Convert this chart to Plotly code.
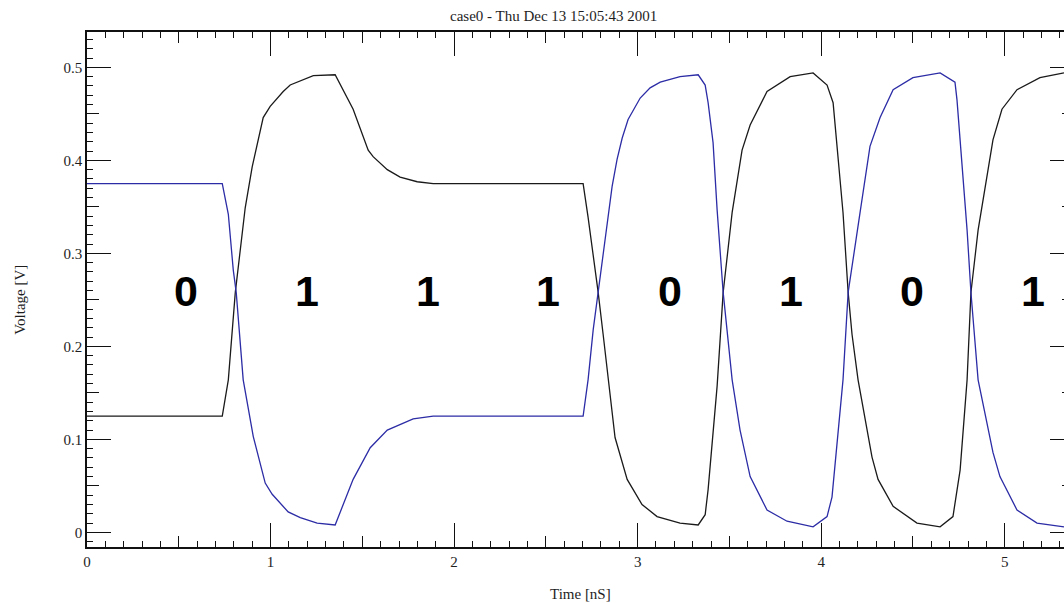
import plotly.graph_objects as go

# Black waveform (time in ns, voltage in V)
black_t = [0.0, 0.737, 0.770, 0.808, 0.862, 0.900, 0.960, 0.998, 1.069, 1.107, 1.233, 1.352,
           1.450, 1.532, 1.559, 1.636, 1.706, 1.799, 1.886, 2.703, 2.730, 2.758, 2.785, 2.812,
           2.839, 2.877, 2.943, 3.024, 3.106, 3.231, 3.330, 3.368, 3.384, 3.411, 3.433, 3.466,
           3.515, 3.569, 3.613, 3.705, 3.831, 3.956, 4.032, 4.065, 4.086, 4.119, 4.147, 4.168,
           4.201, 4.277, 4.310, 4.392, 4.522, 4.648, 4.718, 4.757, 4.795, 4.816, 4.855, 4.936,
           4.985, 5.067, 5.192, 5.323]
black_v = [0.125, 0.125, 0.164, 0.258, 0.349, 0.393, 0.446, 0.458, 0.474, 0.481, 0.491, 0.492,
           0.455, 0.411, 0.404, 0.390, 0.382, 0.377, 0.375, 0.375, 0.339, 0.299, 0.258, 0.213,
           0.164, 0.102, 0.057, 0.030, 0.017, 0.010, 0.008, 0.019, 0.046, 0.110, 0.157, 0.258,
           0.344, 0.411, 0.438, 0.474, 0.490, 0.494, 0.481, 0.462, 0.419, 0.344, 0.258, 0.213,
           0.164, 0.081, 0.057, 0.028, 0.010, 0.006, 0.017, 0.067, 0.164, 0.258, 0.325, 0.422,
           0.455, 0.476, 0.489, 0.494]

# Blue waveform
blue_t = [0.0, 0.737, 0.770, 0.797, 0.813, 0.851, 0.906, 0.971, 1.009, 1.096, 1.162, 1.254,
          1.352, 1.450, 1.543, 1.636, 1.777, 1.886, 2.703, 2.730, 2.758, 2.785, 2.834, 2.861,
          2.888, 2.916, 2.948, 3.014, 3.068, 3.123, 3.231, 3.330, 3.368, 3.384, 3.411, 3.433,
          3.466, 3.515, 3.558, 3.613, 3.705, 3.814, 3.956, 4.032, 4.059, 4.086, 4.119, 4.147,
          4.195, 4.212, 4.266, 4.321, 4.392, 4.500, 4.648, 4.729, 4.740, 4.767, 4.795, 4.816,
          4.855, 4.936, 4.974, 5.067, 5.176, 5.323]
blue_v = [0.375, 0.375, 0.342, 0.282, 0.258, 0.164, 0.103, 0.053, 0.041, 0.022, 0.016, 0.010,
          0.008, 0.057, 0.091, 0.110, 0.122, 0.125, 0.125, 0.164, 0.218, 0.258, 0.336, 0.372,
          0.401, 0.424, 0.444, 0.467, 0.478, 0.484, 0.490, 0.492, 0.481, 0.462, 0.419, 0.347,
          0.258, 0.164, 0.110, 0.060, 0.024, 0.012, 0.006, 0.017, 0.038, 0.092, 0.164, 0.258,
          0.325, 0.344, 0.415, 0.446, 0.476, 0.489, 0.494, 0.484, 0.465, 0.401, 0.325, 0.258,
          0.164, 0.086, 0.060, 0.024, 0.010, 0.006]

# Bit labels
bits = ["0", "1", "1", "1", "0", "1", "0", "1"]
bit_t = [0.539, 1.198, 1.857, 2.511, 3.175, 3.834, 4.493, 5.152]
bit_v = 0.26

title_text = "case0 - Thu Dec 13 15:05:43 2001"
x_title = "Time [nS]"
y_title = "Voltage [V]"

XR = [0.0, 5.323]
YR = [-0.0157, 0.538]

serif = "Liberation Serif"
tcol = "#1e1e1e"
axcol = "#111111"

fig = go.Figure()
fig.add_trace(go.Scatter(x=black_t, y=black_v, mode="lines",
                         line=dict(color="#1a1a1a", width=1.3), showlegend=False, hoverinfo="skip"))
fig.add_trace(go.Scatter(x=blue_t, y=blue_v, mode="lines",
                         line=dict(color="#2c2ca6", width=1.3), showlegend=False, hoverinfo="skip"))
# invisible traces to activate the tick-only overlay axes
for xa, ya in [("x2", "y"), ("x3", "y"), ("x4", "y"), ("x5", "y"), ("x6", "y"),
               ("x", "y2"), ("x", "y3"), ("x", "y4"), ("x", "y5")]:
    fig.add_trace(go.Scatter(x=[None], y=[None], xaxis=xa, yaxis=ya, showlegend=False, hoverinfo="skip"))

for b, t in zip(bits, bit_t):
    fig.add_annotation(x=t, y=bit_v, text="<b>" + b + "</b>", showarrow=False,
                       font=dict(family="Liberation Sans", size=43, color="#000000"),
                       xanchor="center", yanchor="middle")

fig.add_annotation(x=0.477, y=1.031, xref="paper", yref="paper", text=title_text, showarrow=False,
                   font=dict(family=serif, size=15, color=tcol), xanchor="center", yanchor="middle")
fig.add_annotation(x=0.505, y=-0.091, xref="paper", yref="paper", text=x_title, showarrow=False,
                   font=dict(family=serif, size=15, color=tcol), xanchor="center", yanchor="middle")
fig.add_annotation(x=-0.0686, y=0.48, xref="paper", yref="paper", text=y_title, showarrow=False,
                   textangle=-90,
                   font=dict(family=serif, size=15, color=tcol), xanchor="center", yanchor="middle")


def tick_axis(rng, dtick, ticklen, width, overlay, anchor, side):
    return dict(range=rng, overlaying=overlay, anchor=anchor, side=side, dtick=dtick, tick0=0,
                ticks="inside", ticklen=ticklen, tickwidth=width, tickcolor=axcol,
                showticklabels=False, showline=False, mirror=False,
                showgrid=False, zeroline=False)


fig.update_layout(
    width=1064, height=603,
    margin=dict(l=87, r=0, t=32, b=56),
    paper_bgcolor="white", plot_bgcolor="white",
    xaxis=dict(range=XR, dtick=1, tick0=0, ticks="inside", ticklen=24, tickwidth=1.3,
               tickcolor=axcol, showline=True, linecolor=axcol, linewidth=1.5, mirror=True,
               showgrid=False, zeroline=False,
               tickfont=dict(family=serif, size=15, color=tcol)),
    xaxis2=tick_axis(XR, 0.5, 11, 1.1, "x", "y", "bottom"),
    xaxis3=tick_axis(XR, 0.1, 6, 1.0, "x", "y", "bottom"),
    xaxis4=tick_axis(XR, 1, 24, 1.3, "x", "y", "top"),
    xaxis5=tick_axis(XR, 0.5, 11, 1.1, "x", "y", "top"),
    xaxis6=tick_axis(XR, 0.1, 6, 1.0, "x", "y", "top"),
    yaxis=dict(range=YR, dtick=0.1, tick0=0, ticks="inside", ticklen=24, tickwidth=1.3,
               tickcolor=axcol, showline=True, linecolor=axcol, linewidth=1.5, mirror=False,
               showgrid=False, zeroline=False,
               tickfont=dict(family=serif, size=15, color=tcol)),
    yaxis2=tick_axis(YR, 0.05, 12, 1.1, "y", "x", "left"),
    yaxis3=tick_axis(YR, 0.01, 6, 1.0, "y", "x", "left"),
    yaxis4=tick_axis(YR, 0.1, 14, 1.3, "y", "x", "right"),
    yaxis5=tick_axis(YR, 0.05, 2, 1.1, "y", "x", "right"),
)

# remove the default page margin so the 1064x603 figure fills the window exactly
fig.write_html("out.html", config={"displayModeBar": False},
               post_script="document.body.style.margin='0';document.body.style.overflow='hidden';")
